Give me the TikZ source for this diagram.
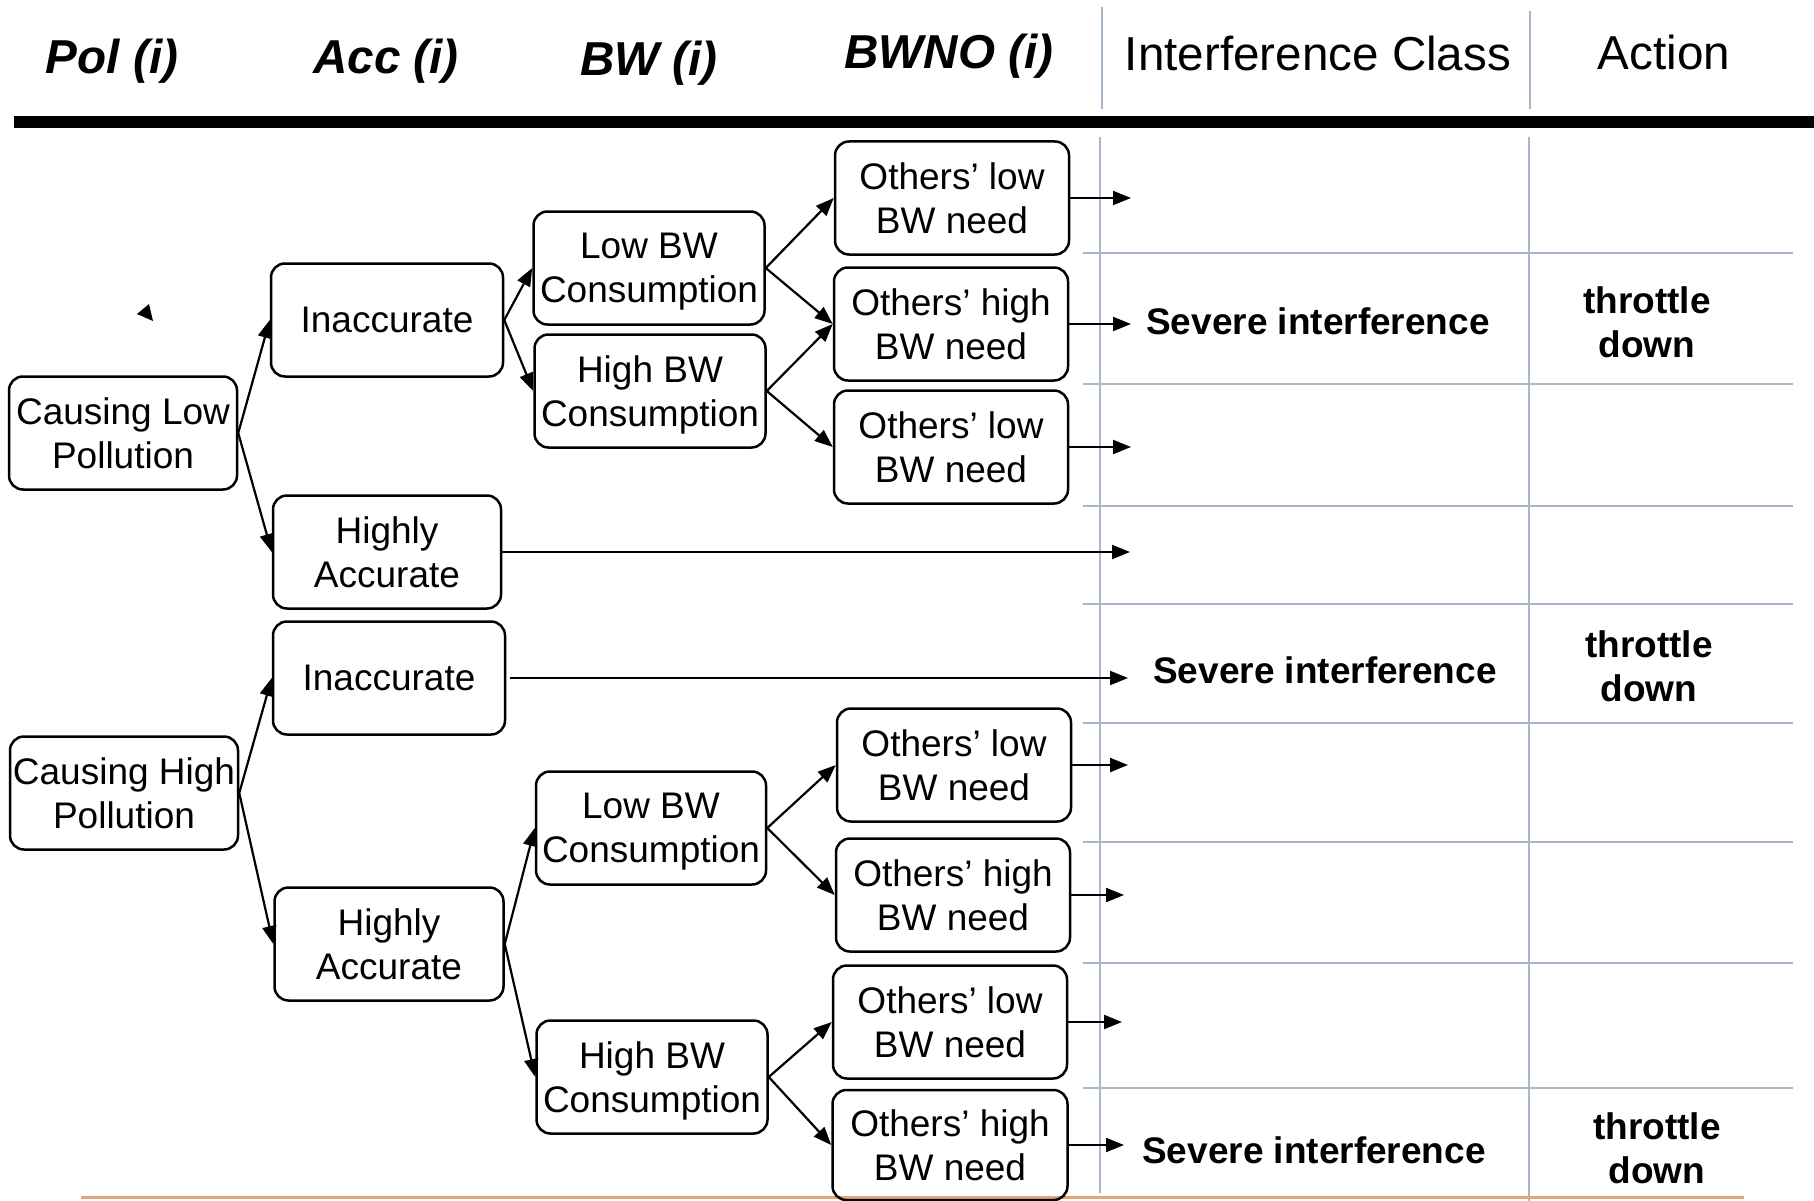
\documentclass[tikz,border=0pt]{standalone}
\usepackage{fontspec}
\setmainfont{Liberation Sans}
\usetikzlibrary{arrows.meta}
\definecolor{gridc}{HTML}{A7B6C9}
\definecolor{orangec}{HTML}{E3A57A}
\begin{document}
\begin{tikzpicture}[x=1pt,y=-1pt,
 box/.style={draw, line width=2.5pt, rounded corners=14pt, inner sep=0pt, minimum height=113pt, align=center, font=\fontsize{37}{44}\selectfont},
 arr/.style={line width=2.2pt, -{Triangle[length=18pt,width=14pt]}},
 hdr/.style={anchor=base, inner sep=0pt, font=\fontsize{47.6}{57}\selectfont},
 hdrb/.style={anchor=base, inner sep=0pt, font=\fontsize{47.6}{57}\selectfont\bfseries\itshape},
 res/.style={inner sep=0pt, align=center, font=\fontsize{37}{44}\selectfont\bfseries},
 gridl/.style={draw=gridc, line width=2.5pt},
 gridv/.style={draw=gridc, line width=1.6pt}]
\useasboundingbox (0,0) rectangle (1814,1201);

% header
\node[hdrb] (hpol) at (112,74) {Pol (i)};
\node[hdrb] (hacc) at (386,74) {Acc (i)};
\node[hdrb] (hbw) at (649,76) {BW (i)};
\node[hdrb] (hbwno) at (949,69) {BWNO (i)};
\node[hdr] (hint) at (1318,71) {Interference Class};
\node[hdr] (hact) at (1664,70) {Action};
\draw[gridv] (1102,7) -- (1102,109);
\draw[gridv] (1530,11) -- (1530,109);
\fill (14,116) rectangle (1814,128);

% grid
\draw[gridv] (1100,137) -- (1100,1193);
\draw[gridv] (1529,137) -- (1529,1201);
\foreach \yy in {253,384,506,604,723,842,963,1088}
  \draw[gridl] (1083,\yy) -- (1793,\yy);

% bottom orange rule
\draw[draw=orangec, line width=3pt] (81,1197) -- (1744,1197);

% stray arrowhead
\fill (149,304) -- (137,314) -- (153,321) -- cycle;

% upper tree
\node[box, minimum width=228pt] (clp) at (123,433) {Causing Low\\Pollution};
\node[box, minimum width=232pt] (in1) at (387,320) {Inaccurate};
\node[box, minimum width=228pt] (ha1) at (387,552) {Highly\\Accurate};
\node[box, minimum width=231pt] (lb1) at (649,268) {Low BW\\\smash{Consumption}};
\node[box, minimum width=231pt] (hb1) at (650,391) {High BW\\\smash{Consumption}};
\node[box, minimum width=234pt] (ol1) at (952,198) {Others’ low\\BW need};
\node[box, minimum width=234pt] (oh1) at (951,324) {Others’ high\\BW need};
\node[box, minimum width=234pt] (ol2) at (951,447) {Others’ low\\BW need};

% lower tree
\node[box, minimum width=228pt] (chp) at (124,793) {Causing High\\Pollution};
\node[box, minimum width=232pt] (in2) at (389,678) {Inaccurate};
\node[box, minimum width=229pt] (ha2) at (389,944) {Highly\\Accurate};
\node[box, minimum width=230pt] (lb2) at (651,828) {Low BW\\\smash{Consumption}};
\node[box, minimum width=231pt] (hb2) at (652,1077) {High BW\\\smash{Consumption}};
\node[box, minimum width=234pt] (ol3) at (954,765) {Others’ low\\BW need};
\node[box, minimum width=234pt] (oh3) at (953,895) {Others’ high\\BW need};
\node[box, minimum width=234pt] (ol4) at (950,1022) {Others’ low\\BW need};
\node[box, minimum width=235pt, minimum height=110pt] (oh4) at (950,1145) {Others’ high\\BW need};

% results
\node[res] (sev1) at (1318,321) {Severe interference};
\node[res] (sev2) at (1325,670) {Severe interference};
\node[res] (sev3) at (1314,1150) {Severe interference};
\node[res] (thr1) at (1647,322) {throttle\\down};
\node[res] (thr2) at (1649,666) {throttle\\down};
\node[res] (thr3) at (1657,1148) {throttle\\down};

% arrow ends
\coordinate (e1) at (1131,0);
\coordinate (e2) at (1130,0);
\coordinate (e3) at (1128,0);
\coordinate (e4) at (1124,0);
\coordinate (e5) at (1122,0);

% connectors upper
\draw[arr] (clp.east) -- (in1.west);
\draw[arr] (clp.east) -- (ha1.west);
\draw[arr] (in1.east) -- (lb1.west);
\draw[arr] (in1.east) -- (hb1.west);
\draw[arr] (lb1.east) -- (ol1.west);
\draw[arr] (lb1.east) -- (oh1.west);
\draw[arr] (hb1.east) -- (oh1.west);
\draw[arr] (hb1.east) -- (ol2.west);
\draw[arr] (ol1.east) -- (ol1.east -| e1);
\draw[arr] (oh1.east) -- (oh1.east -| e1);
\draw[arr] (ol2.east) -- (ol2.east -| e1);
\draw[arr] (ha1.east) -- (ha1.east -| e2);

% connectors lower
\draw[arr] (chp.east) -- (in2.west);
\draw[arr] (chp.east) -- (ha2.west);
\draw[arr] (ha2.east) -- (lb2.west);
\draw[arr] (ha2.east) -- (hb2.west);
\draw[arr] (lb2.east) -- (ol3.west);
\draw[arr] (lb2.east) -- (oh3.west);
\draw[arr] (hb2.east) -- (ol4.west);
\draw[arr] (hb2.east) -- (oh4.west);
\draw[arr, shorten <=4pt] (in2.east) -- (in2.east -| e3);
\draw[arr] (ol3.east) -- (ol3.east -| e3);
\draw[arr] (oh3.east) -- (oh3.east -| e4);
\draw[arr] (ol4.east) -- (ol4.east -| e5);
\draw[arr] (oh4.east) -- (oh4.east -| e4);
\end{tikzpicture}
\end{document}
